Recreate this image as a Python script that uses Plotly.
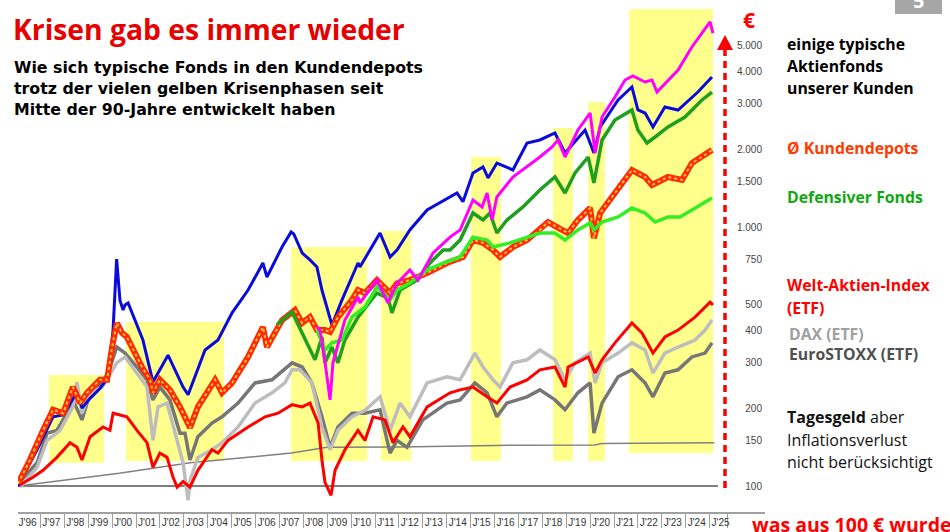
import plotly.graph_objects as go

# ---------------- data (decimal year, value of 100 EUR invested) ----------------
blue_fund = [(1996.06,100),(1996.86,138),(1997.53,185),(1997.95,188),(1998.53,230),(1998.74,200),
             (1999.08,218),(1999.49,238),(1999.83,262),(2000.04,400),(2000.19,752),(2000.33,520),
             (2000.46,478),(2000.54,500),(2000.67,509),(2001.29,366),(2001.71,252),(2002.34,320),
             (2002.97,241),(2003.18,225),(2003.89,335),(2004.43,366),(2005.02,466),(2005.69,571),
             (2006.31,726),(2006.48,641),(2007.11,837),(2007.49,957),(2007.6,940),(2007.95,794),
             (2008.28,746),(2008.57,701),(2008.78,571),(2009.2,418),(2009.62,523),(2010.29,726),
             (2010.37,701),(2011.21,948),(2011.63,766),(2011.92,815),(2012.46,974),(2013.18,1163),
             (2014.43,1353),(2014.68,1252),(2015.1,1616),(2015.52,1705),(2015.73,1546),(2016.1,1766),
             (2016.77,1660),(2017.36,2110),(2017.9,2168),(2018.53,2307),(2018.95,1931),(2019.79,2369),
             (2020.16,1931),(2020.42,2433),(2021.17,3093),(2021.75,3471),(2022.0,2830),(2022.3,2755),
             (2022.63,2433),(2023.13,2906),(2023.68,2830),(2024.51,3320),(2025.1,3795)]

magenta_fund = [(2008.57,411),(2008.7,400),(2008.91,300),(2009.12,215),(2009.16,240),(2009.24,299),
                (2009.74,437),(2010.29,537),(2010.37,509),(2011.08,624),(2011.54,509),(2011.92,606),
                (2012.46,682),(2012.8,624),(2013.43,794),(2014.14,914),(2014.56,973),(2015.1,1271),
                (2015.48,1195),(2015.69,1353),(2015.9,1064),(2016.1,1306),(2016.77,1560),(2017.36,1705),
                (2017.9,1863),(2018.41,2037),(2018.66,2168),(2018.95,1863),(2019.49,2369),(2020.0,2755),
                (2020.21,1931),(2020.5,2659),(2021.04,3176),(2021.46,3694),(2021.79,3828),(2022.3,3629),
                (2022.59,3694),(2022.8,3320),(2023.26,3694),(2023.68,4038),(2024.26,4955),(2024.68,5610),
                (2025.02,6188),(2025.14,5610)]

green_fund = [(2006.9,420),(2007.53,470),(2007.95,390),(2008.2,350),(2008.49,307),(2008.78,376),
              (2008.91,299),(2009.2,344),(2009.45,299),(2009.74,366),(2010.29,449),(2011.08,556),
              (2011.54,533),(2011.71,466),(2012.05,571),(2012.76,624),(2013.3,726),(2013.85,815),
              (2014.14,815),(2014.56,890),(2015.1,1133),(2015.52,1064),(2015.81,1133),(2016.1,948),
              (2016.52,1064),(2017.19,1195),(2017.9,1390),(2018.53,1560),(2018.95,1353),(2019.37,1616),
              (2019.92,1863),(2020.16,1479),(2020.5,2168),(2021.04,2589),(2021.75,2830),(2022.0,2369),
              (2022.38,2110),(2022.72,2226),(2023.26,2433),(2023.97,2659),(2024.68,3093),(2025.1,3320)]

defensiver_fonds = [(2008.57,400),(2008.91,335),(2009.2,357),(2009.62,366),(2010.04,450),(2010.58,491),
                    (2011.08,587),(2011.63,523),(2011.92,571),(2012.46,608),(2013.18,682),(2013.85,726),
                    (2014.56,766),(2015.1,914),(2015.69,890),(2015.94,837),(2016.65,868),(2017.36,914),
                    (2017.9,948),(2018.53,948),(2018.95,891),(2019.49,974),(2020.0,1036),(2020.16,974),
                    (2020.5,1045),(2021.17,1093),(2021.75,1184),(2022.3,1133),(2022.72,1045),(2023.26,1093),
                    (2023.76,1093),(2024.26,1163),(2025.1,1294)]

kundendepots = [(1996.06,102),(1996.56,126),(1997.11,164),(1997.53,197),(1997.95,191),(1998.36,241),
                (1998.66,209),(1998.95,229),(1999.49,257),(1999.79,257),(2000.0,344),(2000.2,426),
                (2000.41,390),(2000.62,376),(2000.83,344),(2001.25,288),(2001.59,257),(2001.71,229),
                (2002.0,257),(2002.42,235),(2002.84,202),(2003.05,185),(2003.26,168),(2003.59,202),
                (2004.31,257),(2004.6,229),(2005.02,250),(2005.69,315),(2006.31,411),(2006.48,344),
                (2007.11,437),(2007.65,478),(2007.95,426),(2008.28,449),(2008.57,400),(2008.91,400),
                (2009.12,393),(2009.45,449),(2010.04,523),(2010.29,571),(2010.58,556),(2011.08,624),
                (2011.63,556),(2011.92,606),(2012.46,624),(2013.18,664),(2014.01,726),(2014.68,766),
                (2015.1,891),(2015.52,868),(2015.94,815),(2016.23,766),(2016.77,836),(2017.36,891),
                (2017.9,974),(2018.24,1045),(2018.82,974),(2019.08,948),(2019.49,1064),(2020.0,1184),
                (2020.16,905),(2020.42,1133),(2021.04,1353),(2021.75,1660),(2022.3,1560),(2022.59,1453),
                (2023.26,1560),(2023.85,1519),(2024.26,1766),(2024.68,1863),(2025.1,1983)]

welt_index = [(1996.06,100),(1996.69,108),(1997.11,115),(1997.69,129),(1998.24,147),(1998.53,141),
              (1998.74,126),(1999.08,155),(1999.62,169),(1999.91,164),(2000.04,191),(2000.33,188),
              (2000.62,185),(2001.04,164),(2001.46,147),(2001.71,118),(2002.0,134),(2002.3,129),
              (2002.55,108),(2002.72,99),(2002.97,104),(2003.26,99),(2003.59,115),(2004.18,138),
              (2004.43,134),(2004.85,150),(2005.69,169),(2006.4,185),(2006.94,191),(2007.53,206),
              (2007.95,202),(2008.28,209),(2008.62,175),(2008.78,126),(2008.91,103),(2009.16,92),
              (2009.33,115),(2009.74,138),(2010.29,164),(2010.58,150),(2010.92,185),(2011.42,180),
              (2011.75,147),(2012.17,169),(2012.46,155),(2013.18,202),(2014.14,229),(2014.56,235),
              (2015.1,241),(2015.69,221),(2016.1,209),(2016.65,241),(2017.36,257),(2017.9,281),
              (2018.53,288),(2018.95,241),(2019.08,288),(2019.92,315),(2020.21,273),(2020.5,307),
              (2021.04,357),(2021.75,426),(2022.17,390),(2022.63,326),(2023.13,376),(2023.68,400),
              (2024.39,449),(2025.02,513),(2025.14,500)]

dax = [(1996.15,99),(1996.86,118),(1997.28,150),(1997.82,164),(1998.36,202),(1998.53,252),
       (1998.74,191),(1999.08,229),(1999.58,241),(1999.83,264),(2000.2,299),(2000.54,315),
       (2001.04,273),(2001.46,241),(2001.71,150),(2001.92,202),(2002.3,209),(2002.72,150),
       (2002.97,123),(2003.18,88),(2003.26,105),(2003.59,129),(2004.18,138),(2004.6,147),
       (2005.27,169),(2005.98,209),(2006.69,229),(2007.23,250),(2007.53,281),(2007.86,281),
       (2008.36,250),(2008.78,169),(2009.12,138),(2009.45,164),(2010.04,185),(2010.58,196),
       (2011.21,221),(2011.63,164),(2012.05,209),(2012.46,185),(2013.18,250),(2014.01,264),
       (2014.56,257),(2015.18,326),(2015.52,288),(2015.94,257),(2016.23,241),(2016.77,299),
       (2017.36,307),(2017.9,335),(2018.53,307),(2018.95,257),(2019.37,299),(2020.0,326),
       (2020.21,250),(2020.5,299),(2021.17,326),(2021.75,357),(2022.3,335),(2022.63,273),
       (2023.13,326),(2023.68,344),(2024.39,366),(2024.81,400),(2025.1,437)]

eurostoxx = [(1996.15,104),(1996.86,123),(1997.28,160),(1997.69,164),(1998.11,191),(1998.36,215),
             (1998.74,180),(1999.08,229),(1999.49,245),(1999.83,273),(2000.2,344),(2000.54,326),
             (2001.04,288),(2001.46,257),(2001.71,215),(2002.0,241),(2002.42,215),(2002.84,160),
             (2003.05,160),(2003.26,126),(2003.59,155),(2004.18,175),(2004.6,185),(2005.27,209),
             (2005.98,250),(2006.69,257),(2007.53,299),(2007.95,288),(2008.36,250),(2008.78,185),
             (2009.12,141),(2009.45,169),(2010.04,191),(2010.58,191),(2011.21,197),(2011.63,134),
             (2011.92,150),(2012.34,141),(2013.0,180),(2014.01,209),(2014.56,215),(2015.18,250),
             (2015.69,229),(2016.1,185),(2016.52,209),(2017.36,221),(2017.9,235),(2018.53,215),
             (2018.95,197),(2019.49,229),(2020.0,250),(2020.16,160),(2020.5,209),(2021.17,264),
             (2021.75,281),(2022.3,250),(2022.63,221),(2023.13,273),(2023.68,281),(2024.26,315),
             (2024.81,326),(2025.1,357)]

tagesgeld = [(1996.06,100),(2000.3,112),(2003.26,123),(2007.5,134),(2009.0,141),(2012.0,141.5),
             (2016.0,143.5),(2020.2,144),(2020.5,146),(2025.2,147)]

# crisis phases (yellow bands)
crisis_start = [1997.36, 2000.58, 2007.49, 2011.25, 2015.02, 2018.45, 2019.92, 2021.63]
crisis_end = [1999.66, 2004.68, 2010.67, 2012.51, 2016.27, 2019.28, 2020.62, 2025.14]
crisis_top = [268, 430, 837, 965, 1864, 2410, 3038, 6945]
crisis_bottom = [123, 125, 125, 125, 125, 125, 125, 134]

start_value = 100
start_year, end_year = 1996.06, 2025.35

years = list(range(1996, 2026))
year_labels = ["J'%02d" % (y % 100) for y in years]
year_separators = list(range(1997, 2026)) + [2025.73]

y_ticks = [100, 150, 200, 300, 400, 500, 750, 1000, 1500, 2000, 3000, 4000, 5000]
y_ticktext = ["100", "150", "200", "300", "400", "500", "750", "1.000", "1.500", "2.000",
              "3.000", "4.000", "5.000"]

# ---------------- figure ----------------
W, H = 950, 532
L, R, T, B = 18, 765, 5, 512


def px(x):
    return (x - L) / (R - L)


def py(y):
    return (B - y) / (B - T)


fig = go.Figure()

for s, e, top, bot in zip(crisis_start, crisis_end, crisis_top, crisis_bottom):
    fig.add_shape(type="rect", xref="x", yref="y", x0=s, x1=e, y0=bot, y1=top,
                  fillcolor="#ffff8c", line_width=0, layer="below")

fig.add_shape(type="line", xref="x", yref="y", x0=start_year, x1=end_year,
              y0=start_value, y1=start_value, line=dict(color="black", width=1.2), layer="below")


def add_line(series, color, width, dash=None):
    xs = [p[0] for p in series]
    ys = [p[1] for p in series]
    fig.add_trace(go.Scatter(x=xs, y=ys, mode="lines",
                             line=dict(color=color, width=width, dash=dash),
                             hoverinfo="skip", showlegend=False))


add_line(tagesgeld, "#808080", 1.5)
add_line(eurostoxx, "#767676", 3.5)
add_line(dax, "#bdbdbd", 3.5)
add_line(welt_index, "#ff0000", 3)
add_line(blue_fund, "#0a0adc", 3)
add_line(kundendepots, "#ff2a00", 6)
add_line(kundendepots, "#ffc040", 2, "dot")
add_line(green_fund, "#1ea01e", 3.5)
add_line(defensiver_fonds, "#33ee22", 3.5)
add_line(magenta_fund, "#ff00ff", 3)

# red dashed arrow (scale direction)
fig.add_shape(type="line", xref="paper", yref="paper", x0=px(725), x1=px(725),
              y0=py(488), y1=py(50), line=dict(color="#ff0000", width=3.5, dash="7px,5px"))
fig.add_shape(type="path", xref="paper", yref="paper",
              path="M %f %f L %f %f L %f %f Z" % (px(717), py(50), px(725), py(35), px(733), py(50)),
              fillcolor="#ff0000", line_width=0)

# page number box
fig.add_shape(type="rect", xref="paper", yref="paper", x0=px(895), x1=px(942), y0=py(14), y1=py(-5),
              fillcolor="#a6a6a6", line_width=0)

annotations = []


def note(text, x, y, size, color="#000000", family="Open Sans", bold=True, anchor="left"):
    t = "<b>%s</b>" % text if bold else text
    annotations.append(dict(text=t, x=px(x), y=py(y), xref="paper", yref="paper",
                            xanchor=anchor, yanchor="middle", showarrow=False,
                            font=dict(size=size, color=color, family=family)))


note("5", 918, 1, 20, "#ffffff", anchor="center")
note("Krisen gab es immer wieder", 11, 29, 28.3, "#e60000")
note("Wie sich typische Fonds in den Kundendepots", 12, 68, 15.8, "#000000", "DejaVu Sans")
note("trotz der vielen gelben Krisenphasen seit", 12, 88.5, 15.8, "#000000", "DejaVu Sans")
note("Mitte der 90-Jahre entwickelt haben", 12, 109, 15.8, "#000000", "DejaVu Sans")
note("€", 749, 20, 21, "#ff0000", anchor="center")

note("einige typische", 785, 44, 15.8)
note("Aktienfonds", 785, 66, 15.8)
note("unserer Kunden", 785, 88, 15.8)
note("Ø Kundendepots", 785, 148, 15.8, "#ff3c00")
note("Defensiver Fonds", 785, 197, 15.8, "#10a810")
note("Welt-Aktien-Index", 785, 285, 15.8, "#ff0000")
note("(ETF)", 785, 308, 15.8, "#ff0000")
note("DAX (ETF)", 787, 334, 15.8, "#a0a0a0")
note("EuroSTOXX (ETF)", 787, 354, 15.8, "#505050")
note("<b>Tagesgeld</b> aber", 785, 417, 16, "#111111", bold=False)
note("Inflationsverlust", 785, 440, 16, "#111111", bold=False)
note("nicht berücksichtigt", 785, 462, 16, "#111111", bold=False)
note("was aus 100 € wurde", 750, 524, 19.5, "#ff0000")

x_range = [1996 + (L - 16.5) / 23.9, 1996 + (R - 16.5) / 23.9]
y_lo = 2 - (B - 486) / 259
y_hi = 2 + (486 - T) / 259

fig.update_layout(
    width=W, height=H,
    margin=dict(l=L, r=W - R, t=T, b=H - B),
    paper_bgcolor="white", plot_bgcolor="white",
    showlegend=False,
    annotations=annotations,
    xaxis=dict(range=x_range, showgrid=False, zeroline=False,
               showline=True, linecolor="#a0a0a0", linewidth=2,
               tickmode="array", tickvals=[y + 0.46 for y in years], ticktext=year_labels,
               ticks="", tickfont=dict(family="Liberation Sans", size=10, color="#333333"),
               minor=dict(tickmode="array", tickvals=year_separators, ticks="outside",
                          ticklen=14, tickcolor="#a0a0a0", tickwidth=1, showgrid=False)),
    yaxis=dict(type="log", range=[y_lo, y_hi], side="right", showgrid=False, zeroline=False,
               showline=False, ticks="", tickmode="array", tickvals=y_ticks, ticktext=y_ticktext,
               ticklabelposition="inside",
               tickfont=dict(family="Liberation Sans", size=10, color="#444444")),
)

fig.write_html("out.html", config={"displayModeBar": False},
               post_script="document.body.style.margin='0';")
